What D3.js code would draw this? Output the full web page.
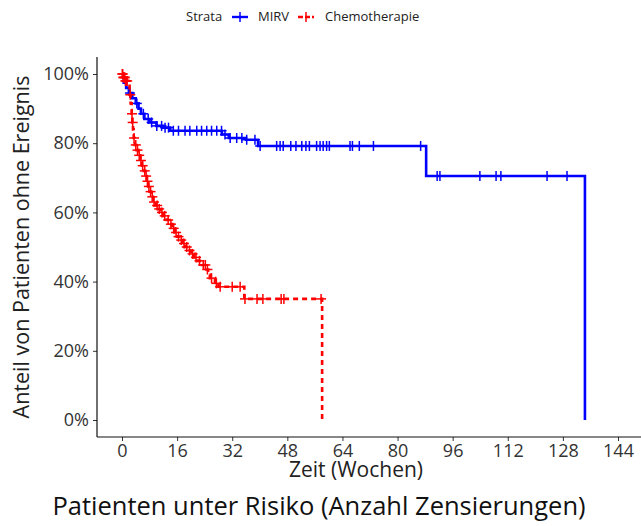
<!DOCTYPE html>
<html>
<head>
<meta charset="utf-8">
<script src="https://cdn.jsdelivr.net/npm/d3@7/dist/d3.min.js"></script>
<style>
  html, body { margin: 0; padding: 0; background: #fff; }
  svg { display: block; }
  text { font-family: "Open Sans", "Noto Sans", sans-serif; }
</style>
</head>
<body>
<svg id="chart" width="641" height="526"></svg>
<script>
// Kaplan-Meier step points: time in weeks, survival after the event
const mirvTime = [0, 0.5, 1.2, 2, 3, 4, 4.8, 5.5, 6.5, 8, 10, 12, 14, 29, 31, 36, 39.5, 88.3, 134.4];
const mirvSurv = [1, 0.975, 0.96, 0.945, 0.93, 0.915, 0.9, 0.885, 0.87, 0.86, 0.85, 0.845, 0.836, 0.825, 0.815, 0.81, 0.792, 0.705, 0];
// censored observations (weeks)
const mirvCensor = [2.3, 4.3, 6.2, 7.6, 8.6, 10.1, 11.5, 12.5, 13.5, 14.9, 16.4, 18.3, 19.7, 21.7, 23.1, 24.6, 26, 27.5,
  28.9, 29.9, 31.4, 33.3, 34.8, 36.2, 38.6, 40.1, 44.9, 45.9, 46.8, 49, 50.5, 52.2, 53.4, 54.4, 56.5, 57.5, 58.4, 59.4,
  60.2, 66.2, 66.9, 68.9, 73, 86.7, 91.5, 92.3, 103.9, 108.6, 110, 123.4, 129.2];

const chemoTime = [0, 0.3, 1.0, 1.8, 2.2, 2.5, 2.8, 3.0, 3.2, 3.4, 3.7, 4.2, 4.8, 5.3, 5.8, 6.3, 6.8, 7.2, 7.6, 8.0, 8.5,
  9.0, 9.8, 10.5, 11.2, 12.0, 13.0, 13.8, 14.5, 15.3, 16.0, 16.8, 17.6, 18.4, 19.2, 20.0, 21.0, 22.0, 23.2, 24.5, 25.0,
  25.5, 27.0, 28.0, 35.5, 58.1];
const chemoSurv = [1, 0.99, 0.98, 0.97, 0.94, 0.915, 0.885, 0.86, 0.84, 0.815, 0.795, 0.78, 0.765, 0.75, 0.735, 0.72,
  0.705, 0.69, 0.675, 0.66, 0.645, 0.63, 0.62, 0.61, 0.6, 0.59, 0.578, 0.566, 0.554, 0.542, 0.53, 0.52, 0.51, 0.5, 0.49,
  0.48, 0.47, 0.46, 0.448, 0.435, 0.42, 0.41, 0.395, 0.385, 0.35, 0];
const chemoCensor = [0.1, 0.2, 0.4, 0.5, 0.7, 0.8, 1.0, 1.2, 1.5, 2.4, 2.9, 3.1, 3.5, 4.0, 4.5, 5.0, 5.5, 6.0, 6.6, 7.0, 7.4,
  7.8, 8.3, 8.8, 9.3, 10.2, 10.8, 11.6, 12.4, 13.4, 14.2, 15.0, 15.7, 16.4, 17.2, 18.0, 18.8, 19.6, 20.5, 21.5, 22.5,
  23.6, 24.2, 24.8, 26.0, 27.4, 28.5, 32.0, 34.3, 35.7, 39.2, 40.9, 46.2, 47.0, 57.8];

const xTicks = [0, 16, 32, 48, 64, 80, 96, 112, 128, 144];
const yTicks = [0, 0.2, 0.4, 0.6, 0.8, 1];
const strata = ["MIRV", "Chemotherapie"];
const strataColor = ["#0000ff", "#ff0000"];

const svg = d3.select("#chart");
const x = d3.scaleLinear().domain([0, 144]).range([122, 618]);
const y = d3.scaleLinear().domain([0, 1]).range([420, 74]);
const axisLeft = 97, axisBottom = 437, plotTop = 57;

// axes
const xAxis = svg.append("g").attr("transform", `translate(0,${axisBottom})`)
  .call(d3.axisBottom(x).tickValues(xTicks).tickSize(4).tickPadding(3).tickSizeOuter(0));
xAxis.select(".domain").remove();
const yAxis = svg.append("g").attr("transform", `translate(${axisLeft},0)`)
  .call(d3.axisLeft(y).tickValues(yTicks).tickFormat(d3.format(".0%")).tickSize(4).tickPadding(4).tickSizeOuter(0));
yAxis.select(".domain").remove();
svg.selectAll(".tick line").attr("stroke", "#333");
svg.selectAll(".tick text").attr("fill", "#333").style("font-size", "18px")
  .style("font-family", "'Open Sans', 'Noto Sans', sans-serif");

svg.append("line").attr("x1", axisLeft).attr("x2", 641).attr("y1", axisBottom).attr("y2", axisBottom)
  .attr("stroke", "#111").attr("stroke-width", 1.2);
svg.append("line").attr("x1", axisLeft).attr("x2", axisLeft).attr("y1", plotTop).attr("y2", axisBottom)
  .attr("stroke", "#111").attr("stroke-width", 1.2);

// curves
const line = d3.line().x(d => x(d[0])).y(d => y(d[1])).curve(d3.curveStepAfter);
function drawStrata(times, surv, censor, color, dash) {
  const pts = times.map((t, i) => [t, surv[i]]);
  svg.append("path").datum(pts).attr("d", line).attr("fill", "none")
    .attr("stroke", color).attr("stroke-width", 2.6).attr("stroke-dasharray", dash);
  const survAt = t => surv[Math.max(0, d3.bisectRight(times, t) - 1)];
  const g = svg.append("g").attr("stroke", color).attr("stroke-width", 1.5);
  censor.forEach(t => {
    const cx = x(t), cy = y(survAt(t));
    g.append("line").attr("x1", cx - 5).attr("x2", cx + 5).attr("y1", cy).attr("y2", cy);
    g.append("line").attr("x1", cx).attr("x2", cx).attr("y1", cy - 5).attr("y2", cy + 5);
  });
}
drawStrata(mirvTime, mirvSurv, mirvCensor, strataColor[0], null);
drawStrata(chemoTime, chemoSurv, chemoCensor, strataColor[1], "5,4");

// titles
svg.append("text").attr("x", 356).attr("y", 477).attr("text-anchor", "middle")
  .style("font-size", "21px").attr("fill", "#222").text("Zeit (Wochen)");
svg.append("text").attr("transform", "translate(29,247) rotate(-90)").attr("text-anchor", "middle")
  .style("font-size", "21.5px").attr("fill", "#222").text("Anteil von Patienten ohne Ereignis");
svg.append("text").attr("x", 319).attr("y", 515).attr("text-anchor", "middle")
  .style("font-size", "25.5px").attr("fill", "#111")
  .text("Patienten unter Risiko (Anzahl Zensierungen)");

// legend
const lg = svg.append("g").style("font-size", "13px").attr("fill", "#222");
lg.append("text").attr("x", 186).attr("y", 21).text("Strata");
const keyX = [232, 298], labX = [258, 325];
strata.forEach((s, i) => {
  const k = svg.append("g").attr("stroke", strataColor[i]);
  k.append("line").attr("x1", keyX[i]).attr("x2", keyX[i] + 16).attr("y1", 17).attr("y2", 17).attr("stroke-width", 2.4)
    .attr("stroke-dasharray", i === 1 ? "5,2" : null);
  k.append("line").attr("x1", keyX[i] + 8).attr("x2", keyX[i] + 8).attr("y1", 12).attr("y2", 22).attr("stroke-width", 1.5);
  lg.append("text").attr("x", labX[i]).attr("y", 21).text(s);
});
</script>
</body>
</html>
